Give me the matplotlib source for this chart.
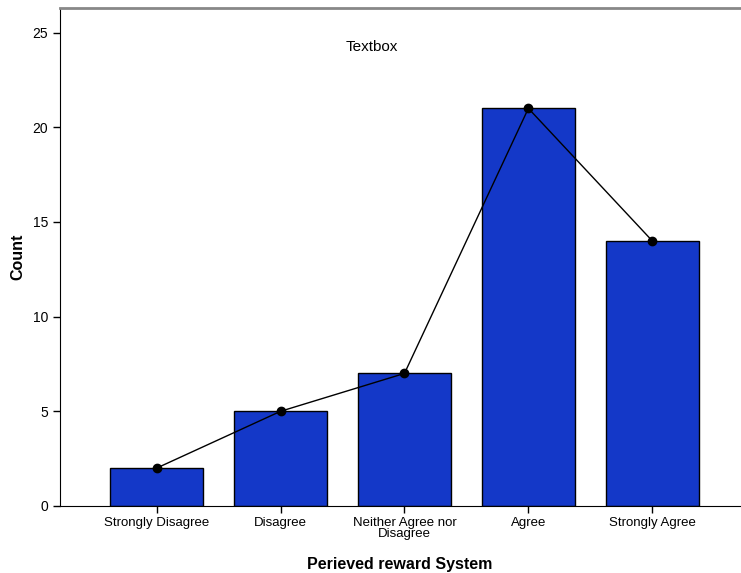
import matplotlib
matplotlib.use('Agg')
import matplotlib.pyplot as plt
import numpy as np

categories = ['Strongly Disagree', 'Disagree', 'Neither Agree nor\nDisagree', 'Agree', 'Strongly Agree']
counts = [2, 5, 7, 21, 14]
yticks = [0, 5, 10, 15, 20, 25]

plt.rcParams.update({'font.family': ['Liberation Sans', 'DejaVu Sans']})

fig = plt.figure(figsize=(7.41, 5.73), dpi=100)
ax = fig.add_axes([0.081, 0.117, 0.918, 0.869])
x = np.arange(len(categories))
ax.bar(x, counts, width=0.75, color='#1438c8', edgecolor='black', linewidth=1, zorder=2)
ax.plot(x, counts, color='black', lw=1, marker='o', ms=6, zorder=3)

ax.set_xlim(-0.78, 4.71)
ax.set_ylim(0, 26.3)
ax.set_xticks(x)
ax.set_xticklabels(categories, fontsize=9.5, linespacing=0.9)
ax.set_yticks(yticks)
ax.tick_params(axis='y', labelsize=10, length=5, width=1)
ax.tick_params(axis='x', length=5, width=1, pad=3)
ax.spines['right'].set_visible(False)
ax.spines['top'].set_color('#888888')
ax.spines['top'].set_linewidth(2)
ax.set_ylabel('Count', fontsize=11.5, fontweight='bold', labelpad=5)
ax.set_xlabel('Perieved reward System', fontsize=11.5, fontweight='bold', labelpad=12)
ax.text(0.459, 0.922, 'Textbox', transform=ax.transAxes, fontsize=11, ha='center', va='center')

plt.savefig('out.png', dpi=100)
